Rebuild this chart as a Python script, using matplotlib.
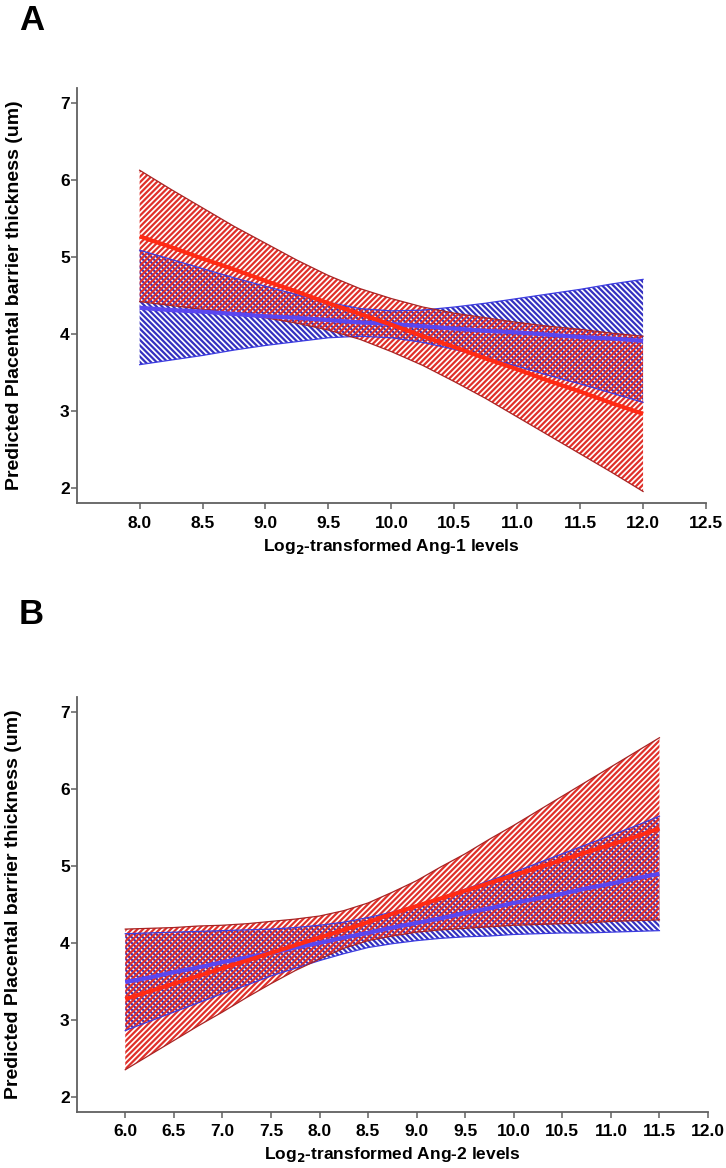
import matplotlib
matplotlib.use("Agg")
import matplotlib.pyplot as plt

plt.rcParams['font.family'] = ['Liberation Sans', 'DejaVu Sans']
plt.rcParams['font.weight'] = 'bold'
plt.rcParams['hatch.linewidth'] = 1.6

# ---------------- Panel A data (Ang-1) ----------------
A_x = [8.0, 8.25, 8.5, 8.75, 9.0, 9.25, 9.5, 9.75, 10.0, 10.25, 10.5, 10.75,
       11.0, 11.25, 11.5, 11.75, 12.0]
A_red_fit = [5.27, 5.13, 4.98, 4.84, 4.69, 4.55, 4.40, 4.26, 4.12, 3.97, 3.83,
             3.68, 3.54, 3.39, 3.25, 3.10, 2.96]
A_red_upper = [6.13, 5.88, 5.64, 5.40, 5.18, 4.96, 4.76, 4.59, 4.46, 4.35, 4.27,
               4.21, 4.15, 4.10, 4.06, 4.01, 3.97]
A_red_lower = [4.42, 4.37, 4.32, 4.27, 4.21, 4.14, 4.05, 3.93, 3.77, 3.59, 3.38,
               3.16, 2.92, 2.68, 2.44, 2.20, 1.95]
A_blue_fit = [4.34, 4.31, 4.29, 4.26, 4.23, 4.21, 4.18, 4.15, 4.13, 4.10, 4.07,
              4.04, 4.02, 3.99, 3.96, 3.94, 3.91]
A_blue_upper = [5.09, 4.97, 4.85, 4.73, 4.62, 4.51, 4.41, 4.33, 4.30, 4.31, 4.35,
                4.40, 4.46, 4.52, 4.58, 4.65, 4.71]
A_blue_lower = [3.60, 3.66, 3.72, 3.79, 3.85, 3.90, 3.95, 3.97, 3.95, 3.89, 3.80,
                3.69, 3.58, 3.46, 3.35, 3.23, 3.11]
A_xticks = [8.0, 8.5, 9.0, 9.5, 10.0, 10.5, 11.0, 11.5, 12.0, 12.5]

# ---------------- Panel B data (Ang-2) ----------------
B_x = [6.0, 6.25, 6.5, 6.75, 7.0, 7.25, 7.5, 7.75, 8.0, 8.25, 8.5, 8.75, 9.0,
       9.25, 9.5, 9.75, 10.0, 10.25, 10.5, 10.75, 11.0, 11.25, 11.5]
B_red_fit = [3.27, 3.37, 3.47, 3.57, 3.67, 3.77, 3.87, 3.97, 4.07, 4.17, 4.27,
             4.38, 4.48, 4.58, 4.68, 4.78, 4.88, 4.98, 5.08, 5.18, 5.28, 5.38, 5.49]
B_red_upper = [4.18, 4.19, 4.20, 4.22, 4.23, 4.25, 4.28, 4.31, 4.35, 4.42, 4.52,
               4.66, 4.81, 4.99, 5.16, 5.35, 5.53, 5.72, 5.91, 6.10, 6.29, 6.48, 6.67]
B_red_lower = [2.35, 2.54, 2.73, 2.92, 3.10, 3.29, 3.47, 3.64, 3.79, 3.93, 4.03,
               4.09, 4.14, 4.17, 4.19, 4.21, 4.23, 4.24, 4.25, 4.26, 4.28, 4.29, 4.30]
B_blue_fit = [3.49, 3.55, 3.62, 3.68, 3.75, 3.81, 3.87, 3.94, 4.00, 4.07, 4.13,
              4.20, 4.26, 4.32, 4.39, 4.45, 4.52, 4.58, 4.64, 4.71, 4.77, 4.84, 4.90]
B_blue_upper = [4.12, 4.13, 4.14, 4.15, 4.16, 4.17, 4.18, 4.20, 4.23, 4.27, 4.33,
                4.40, 4.49, 4.59, 4.70, 4.81, 4.92, 5.04, 5.16, 5.28, 5.40, 5.52, 5.65]
B_blue_lower = [2.86, 2.98, 3.10, 3.22, 3.34, 3.45, 3.57, 3.67, 3.77, 3.86, 3.94,
                3.99, 4.03, 4.06, 4.08, 4.09, 4.11, 4.12, 4.13, 4.13, 4.14, 4.15, 4.16]
B_xticks = [6.0, 6.5, 7.0, 7.5, 8.0, 8.5, 9.0, 9.5, 10.0, 10.5, 11.0, 11.5, 12.0]

y_ticks = [2, 3, 4, 5, 6, 7]

RED_HATCH = '#e0302a'
RED_EDGE = '#a82424'
RED_LINE = '#ff2a14'
BLUE_HATCH = '#3430c0'
BLUE_EDGE = '#3c3ce0'
BLUE_LINE = '#5a46f0'
SPINE = '#606060'

W, H = 726, 1168
fig = plt.figure(figsize=(W / 100, H / 100), dpi=100)

def frac(l, t, r, b):
    return [l / W, 1 - b / H, (r - l) / W, (b - t) / H]

axA = fig.add_axes(frac(76.7, 88, 706, 503))
axB = fig.add_axes(frac(76.7, 697, 708, 1112))


def draw(ax, x, rf, ru, rl, bf, bu, bl, xticks, xlim, xlabel):
    ax.fill_between(x, bl, bu, facecolor='none', edgecolor=BLUE_HATCH,
                    hatch='\\\\\\\\\\\\', linewidth=0, zorder=1)
    ax.fill_between(x, rl, ru, facecolor='none', edgecolor=RED_HATCH,
                    hatch='//////', linewidth=0, zorder=2)
    ax.plot(x, bu, color=BLUE_EDGE, lw=0.9, zorder=3)
    ax.plot(x, bl, color=BLUE_EDGE, lw=0.9, zorder=3)
    ax.plot(x, ru, color=RED_EDGE, lw=0.9, zorder=3)
    ax.plot(x, rl, color=RED_EDGE, lw=0.9, zorder=3)
    ax.plot(x, bf, color=BLUE_LINE, lw=3.0, zorder=4, solid_capstyle='butt')
    ax.plot(x, rf, color=RED_LINE, lw=3.0, zorder=5, solid_capstyle='butt')

    ax.set_xlim(*xlim)
    ax.set_ylim(1.8, 7.2)
    ax.set_xticks(xticks)
    ax.set_xticklabels([f'{v:.1f}' for v in xticks])
    ax.set_yticks(y_ticks)
    ax.set_yticklabels([str(v) for v in y_ticks])
    for s in ['top', 'right']:
        ax.spines[s].set_visible(False)
    for s in ['left', 'bottom']:
        ax.spines[s].set_color(SPINE)
        ax.spines[s].set_linewidth(1.3)
    ax.tick_params(axis='both', colors=SPINE, width=1.1, length=4.5,
                   labelcolor='black', labelsize=12.5)
    ax.tick_params(axis='x', pad=4.5)
    ax.tick_params(axis='y', pad=0.5)
    for lab in ax.get_xticklabels() + ax.get_yticklabels():
        lab.set_fontweight('bold')
    ax.set_xlabel(xlabel, fontsize=12.5, fontweight='bold', va='center')
    ax.xaxis.set_label_coords(0.5, -43 / 415)
    ax.set_ylabel('Predicted Placental barrier thickness (um)', fontsize=14,
                  fontweight='bold', va='center')
    ax.yaxis.set_label_coords(-(76.7 - 14) / 630, 0.5)


draw(axA, A_x, A_red_fit, A_red_upper, A_red_lower, A_blue_fit, A_blue_upper,
     A_blue_lower, A_xticks, (7.5, 12.5), r'Log$_\mathbf{2}$-transformed Ang-1 levels')
draw(axB, B_x, B_red_fit, B_red_upper, B_red_lower, B_blue_fit, B_blue_upper,
     B_blue_lower, B_xticks, (5.5, 12.0), r'Log$_\mathbf{2}$-transformed Ang-2 levels')

fig.text(19 / W, 1 - 4 / H, 'A', fontsize=25, fontweight='bold', va='top', ha='left')
fig.text(19 / W, 1 - 598 / H, 'B', fontsize=25, fontweight='bold', va='top', ha='left')

fig.savefig('out.png', dpi=100)
